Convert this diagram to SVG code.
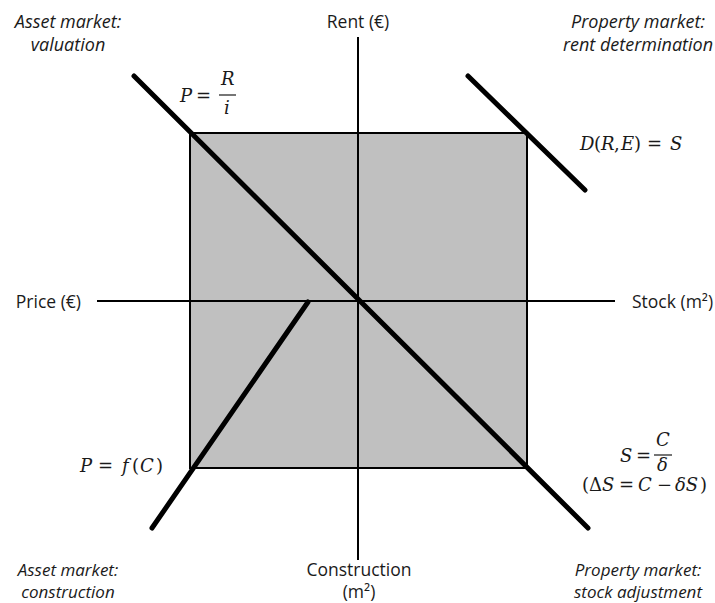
<svg xmlns="http://www.w3.org/2000/svg" width="715" height="603" viewBox="0 0 715 603">
<style>
.lbl{font-family:"Open Sans","Liberation Sans",sans-serif;font-style:italic;font-size:18px;fill:#1a1a1a;text-anchor:middle}
.lbl2{font-family:"Open Sans","Liberation Sans",sans-serif;font-style:italic;font-size:17px;fill:#1a1a1a;text-anchor:middle}
.ax{font-family:"Open Sans","Liberation Sans",sans-serif;font-size:17.5px;fill:#1a1a1a}
.m{font-family:"DejaVu Serif","Liberation Serif",serif;font-style:italic;font-size:18px;fill:#1a1a1a}
.mu{font-family:"DejaVu Serif","Liberation Serif",serif;font-size:18px;fill:#1a1a1a}
.thick{stroke:#000;stroke-width:5;stroke-linecap:round;fill:none}
.axis{stroke:#000;stroke-width:2;fill:none}
</style>
<g id="square"><rect x="190" y="133" width="337" height="335" fill="#c0c0c0" stroke="#000" stroke-width="2"/></g>
<g id="connectors">
<line class="axis" x1="97" y1="301" x2="615" y2="301"/>
<line class="axis" x1="358" y1="37" x2="358" y2="560"/>
<line class="thick" x1="134" y1="76" x2="588" y2="528"/>
<line class="thick" x1="468" y1="76" x2="585" y2="190"/>
<line class="thick" x1="152" y1="528" x2="308" y2="302"/>
</g>
<g id="axis-labels">
<text class="ax" x="358" y="28" text-anchor="middle">Rent (€)</text>
<text class="ax" x="81" y="308" text-anchor="end">Price (€)</text>
<text class="ax" x="632" y="308">Stock (m²)</text>
<text class="ax" x="359" y="576" text-anchor="middle" font-size="17">Construction</text>
<text class="ax" x="359" y="598" text-anchor="middle" font-size="17">(m²)</text>
</g>
<g id="quadrant-labels">
<text class="lbl" x="68" y="28">Asset market:</text>
<text class="lbl" x="68" y="51">valuation</text>
<text class="lbl" x="638" y="28">Property market:</text>
<text class="lbl" x="638" y="51">rent determination</text>
<text class="lbl2" x="68" y="576">Asset market:</text>
<text class="lbl2" x="68" y="598">construction</text>
<text class="lbl2" x="638" y="576">Property market:</text>
<text class="lbl2" x="638" y="598">stock adjustment</text>
</g>
<g id="eq-valuation">
<text class="m" x="180" y="102">P</text>
<text class="mu" x="196" y="102">=</text>
<text class="m" x="221" y="85">R</text>
<line x1="219" y1="95" x2="236" y2="95" stroke="#1a1a1a" stroke-width="1.2"/>
<text class="m" x="224" y="114">i</text>
</g>
<g id="eq-rent">
<text class="m" x="580" y="150">D</text><text class="mu" x="594" y="150">(</text><text class="m" x="601" y="150">R</text><text class="mu" x="614" y="150">,</text><text class="m" x="621" y="150">E</text><text class="mu" x="634" y="150">)</text><text class="mu" x="647" y="150">=</text><text class="m" x="670" y="150">S</text>
</g>
<g id="eq-construction">
<text class="m" x="80" y="472">P</text><text class="mu" x="98" y="472">=</text><text class="m" x="122" y="472">f</text><text class="mu" x="132" y="472">(</text><text class="m" x="140" y="472">C</text><text class="mu" x="156" y="472">)</text>
</g>
<g id="eq-stock">
<text class="m" x="620" y="462">S</text><text class="mu" x="636" y="462">=</text>
<text class="m" x="656" y="446">C</text>
<line x1="654" y1="455" x2="672" y2="455" stroke="#1a1a1a" stroke-width="1.2"/>
<text class="m" x="657" y="471" font-size="16">δ</text>
<text class="mu" x="582" y="491">(Δ</text><text class="m" x="602" y="491">S</text><text class="mu" x="619" y="491">=</text><text class="m" x="638" y="491">C</text><text class="mu" x="657" y="491">−</text><text class="m" x="675" y="491">δS</text><text class="mu" x="700" y="491">)</text>
</g>
</svg>
